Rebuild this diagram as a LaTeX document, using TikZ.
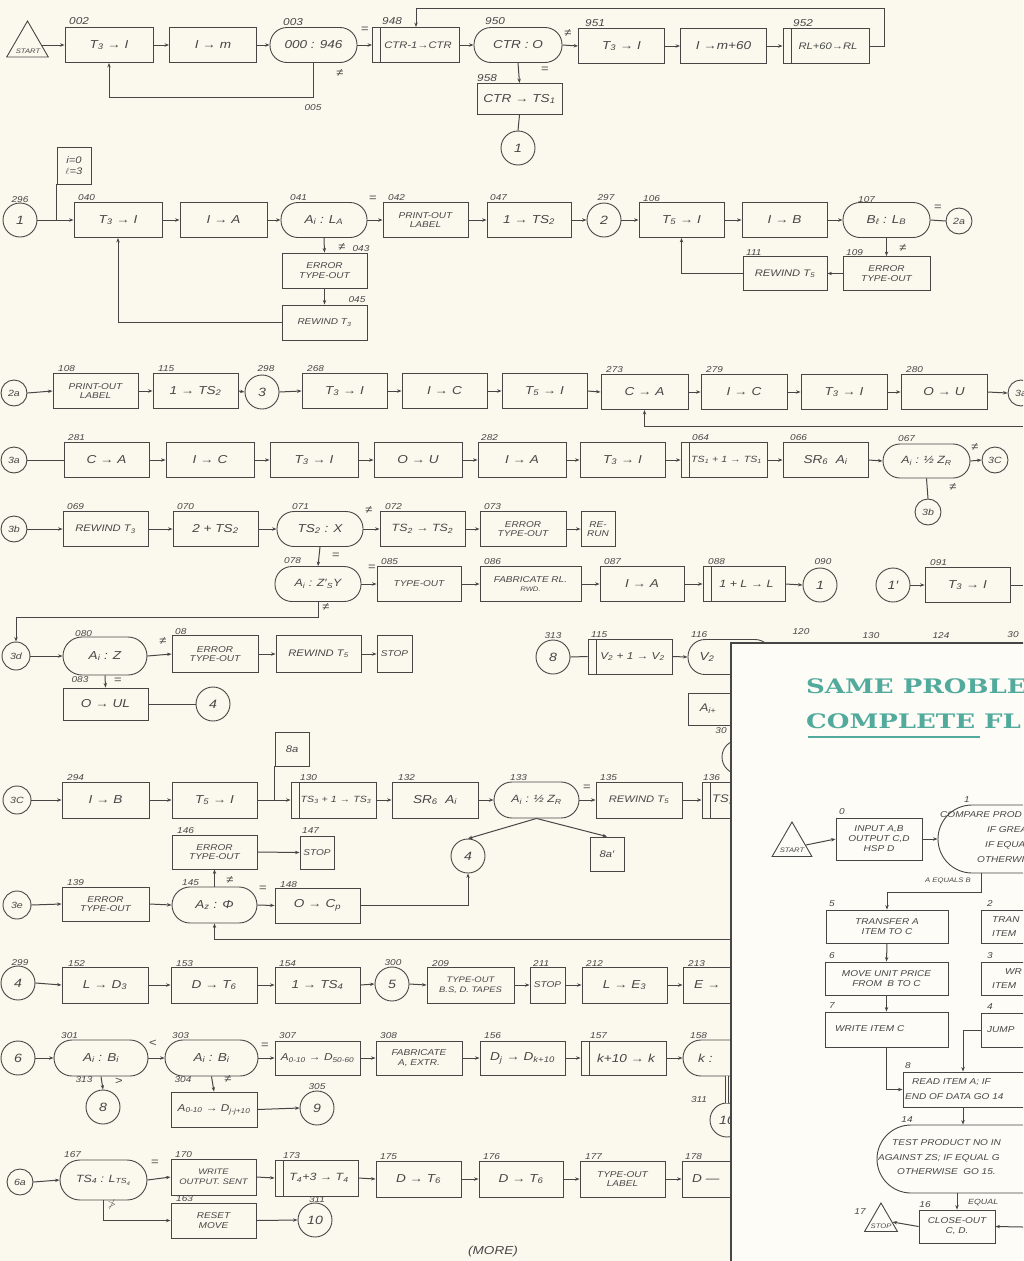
\documentclass[tikz,border=0pt]{standalone}
\usepackage{fontspec}
\setmainfont{Liberation Sans}[FakeStretch=1.18]
\newfontfamily\titlefont[FakeStretch=1.3]{DejaVu Serif}
\usetikzlibrary{arrows.meta,shapes.geometric}
\definecolor{ink}{HTML}{464646}
\definecolor{bgc}{HTML}{FBF9EE}
\definecolor{panelc}{HTML}{FDFCF7}
\definecolor{titlec}{HTML}{52AA9C}
\newcommand\sbx[1]{\textsubscript{#1}}
\begin{document}
\begin{tikzpicture}[x=1pt,y=-1pt,
  every node/.style={text=ink},
  bx/.style={draw=ink, line width=0.9pt, rectangle, minimum width=86, minimum height=35, inner sep=1pt, align=center, font=\itshape\fontsize{11.5}{13}\selectfont},
  term/.style={bx, rounded corners=17pt},
  subr/.style={bx, path picture={\draw[ink, line width=0.9pt] ([xshift=8pt]path picture bounding box.north west) -- ([xshift=8pt]path picture bounding box.south west);}},
  conn/.style={draw=ink, line width=0.9pt, circle, minimum size=34, inner sep=0, font=\itshape\fontsize{12}{13}\selectfont},
  sconn/.style={conn, minimum size=26, font=\itshape\fontsize{9}{10}\selectfont},
  sm/.style={font=\itshape\fontsize{8.5}{9.5}\selectfont},
  md/.style={font=\itshape\fontsize{9.5}{11}\selectfont},
  sub9/.style={font=\itshape\fontsize{9}{10}\selectfont},
  lbl/.style={font=\itshape\fontsize{8.5}{9}\selectfont, inner sep=0, anchor=south west},
  lblA/.style={lbl, font=\itshape\fontsize{10}{10}\selectfont},
  clbl/.style={font=\itshape\fontsize{8.5}{9}\selectfont, inner sep=0},
  sym/.style={font=\fontsize{11}{11}\selectfont, inner sep=0},
  tri/.style={draw=ink, line width=0.9pt, regular polygon, regular polygon sides=3, inner sep=0},
  tiny/.style={font=\itshape\fontsize{6.5}{6.5}\selectfont, inner sep=0},
  itxt/.style={font=\itshape\fontsize{8.5}{9.5}\selectfont, inner sep=0, anchor=west},
  ibx/.style={bx, font=\itshape\fontsize{8.5}{10}\selectfont},
  arr/.style={draw=ink, line width=1pt, -{Stealth[length=4.5pt,width=3.4pt]}},
  ln/.style={draw=ink, line width=1pt}
]
\useasboundingbox (0,0) rectangle (1023,1261);
\clip (0,0) rectangle (1023,1261);
\fill[bgc] (0,0) rectangle (1023,1261);

%% ---------------- row 1
\node[tri, minimum size=48] (start) at (27.5,45) {};
\node[tiny] (starttxt) at (28,51) {START};
\node[bx, minimum width=88] (b002) at (109,45) {T\sbx{3} → I};
\node[lblA] (l002) at (69,25) {002};
\node[bx, minimum width=87] (bIm) at (213,45) {I → m};
\node[term, minimum width=87] (t003) at (313.5,45) {000 : 946};
\node[lblA] (l003) at (283,26) {003};
\node[subr, minimum width=87, font=\itshape\fontsize{9.5}{11}\selectfont] (b948) at (416,45) {\hspace{4pt}CTR-1→CTR};
\node[lblA] (l948) at (382,25) {948};
\node[term, minimum width=88] (t950) at (518,45) {CTR : O};
\node[lblA] (l950) at (485,25) {950};
\node[bx] (b951) at (621.5,46) {T\sbx{3} → I};
\node[lblA] (l951) at (585,27) {951};
\node[bx] (bIm60) at (723.5,46) {I →m+60};
\node[subr, font=\itshape\fontsize{9.5}{11}\selectfont] (b952) at (826,46) {\hspace{4pt}RL+60→RL};
\node[lblA] (l952) at (793,27) {952};
\node[bx, minimum width=85, minimum height=31] (bCTR) at (519.5,99) {CTR → TS\sbx{1}};
\node[lblA] (l958) at (477,82) {958};
\node[conn] (c1a) at (518,148) {1};
\node[sym] (s1) at (365,30) {=};
\node[sym] (s2) at (340,73) {≠};
\node[clbl] (l005) at (313,108) {005};
\node[sym] (s3) at (568,33) {≠};
\node[sym] (s4) at (545,70) {=};

\draw[arr] (start.east) -- (b002.west);
\draw[arr] (b002.east) -- (bIm.west);
\draw[arr] (bIm.east) -- (t003.west);
\draw[arr] (t003.east) -- (b948.west);
\draw[arr] (b948.east) -- (t950.west);
\draw[arr] (t950.east) -- (b951.west);
\draw[arr] (b951.east) -- (bIm60.west);
\draw[arr] (bIm60.east) -- (b952.west);
\draw[arr] (t003.south) -- ++(0,34.5) -| (b002.south);
\draw[arr] (b952.east) -- ++(15,0) -- ++(0,-38) -| (b948.north);
\draw[arr] (t950.south) -- (bCTR.north);
\draw[ln] (bCTR.south) -- (c1a.north);

%% ---------------- row 2
\node[bx, minimum width=34, minimum height=37, md, inner sep=0] (bij) at (74,165.5) {i=0\\$\ell$=3};
\node[conn] (c1b) at (20,220) {1};
\node[clbl] (l296) at (20,200) {296};
\node[bx, minimum width=88] (b040) at (118,220) {T\sbx{3} → I};
\node[lbl] (l040) at (78,201) {040};
\node[bx, minimum width=87] (bIA) at (223.5,220) {I → A};
\node[term] (t041) at (324,220) {A\sbx{i} : L\sbx{A}};
\node[lbl] (l041) at (290,201) {041};
\node[bx, minimum width=85, sm] (b042) at (425.5,220) {PRINT-OUT\\LABEL};
\node[lbl] (l042) at (388,201) {042};
\node[bx, minimum width=84] (b047) at (529,220) {1 → TS\sbx{2}};
\node[lbl] (l047) at (490,201) {047};
\node[conn] (c2) at (604,220) {2};
\node[clbl] (l297) at (606,198) {297};
\node[bx, minimum width=85] (b106) at (681.5,220) {T\sbx{5} → I};
\node[lbl] (l106) at (643,202) {106};
\node[bx, minimum width=85] (bIB) at (784.5,220) {I → B};
\node[term, minimum width=87] (t107) at (886.5,220) {B\sbx{ℓ} : L\sbx{B}};
\node[lbl] (l107) at (858,203) {107};
\node[sconn] (c2a) at (959,221) {2a};
\node[bx, minimum width=87, minimum height=34, sm] (b109) at (886.5,273.5) {ERROR\\TYPE-OUT};
\node[lbl] (l109) at (846,256) {109};
\node[bx, minimum width=84, minimum height=34, md] (b111) at (785,273.5) {REWIND T\sbx{5}};
\node[lbl] (l111) at (746,256) {111};
\node[bx, minimum width=85, sm] (b043) at (324.5,270.5) {ERROR\\TYPE-OUT};
\node[bx, minimum width=85, sm] (b045) at (324.5,322.5) {REWIND T\sbx{3}};
\node[sym] (s5) at (373,199) {=};
\node[sym] (s6) at (938,208) {=};
\node[sym] (s7) at (903,248) {≠};
\node[sym] (s8) at (342,247) {≠};
\node[clbl] (l043) at (361,249) {043};
\node[clbl] (l045) at (357,300) {045};

\draw[arr] (c1b.east) -- (b040.west);
\draw[ln] (bij.south west) -- (bij.south west |- c1b.east);
\draw[arr] (b040.east) -- (bIA.west);
\draw[arr] (bIA.east) -- (t041.west);
\draw[arr] (t041.east) -- (b042.west);
\draw[arr] (b042.east) -- (b047.west);
\draw[arr] (b047.east) -- (c2.west);
\draw[arr] (c2.east) -- (b106.west);
\draw[arr] (b106.east) -- (bIB.west);
\draw[arr] (bIB.east) -- (t107.west);
\draw[ln] (t107.east) -- (c2a.west);
\draw[arr] (t107.south) -- (b109.north);
\draw[arr] (b109.west) -- (b111.east);
\draw[arr] (b111.west) -| (b106.south);
\draw[arr] (t041.south) -- (b043.north);
\draw[arr] (b043.south) -- (b045.north);
\draw[arr] (b045.west) -| (b040.south);

%% ---------------- row 3
\node[sconn] (c2b) at (14,393) {2a};
\node[bx, minimum width=85, sm] (b108) at (95.5,391) {PRINT-OUT\\LABEL};
\node[lbl] (l108) at (58,372) {108};
\node[bx, minimum width=85] (b115) at (195.5,391) {1 → TS\sbx{2}};
\node[lbl] (l115) at (158,372) {115};
\node[conn] (c3) at (262,392) {3};
\node[clbl] (l298) at (266,369) {298};
\node[bx, minimum width=85] (b268) at (344.5,391) {T\sbx{3} → I};
\node[lbl] (l268) at (307,372) {268};
\node[bx, minimum width=85] (bIC1) at (444.5,391) {I → C};
\node[bx, minimum width=85] (bT5a) at (544.5,391) {T\sbx{5} → I};
\node[bx, minimum width=87] (b273) at (644.5,392) {C → A};
\node[lbl] (l273) at (606,373) {273};
\node[bx] (b279) at (744,392) {I → C};
\node[lbl] (l279) at (706,373) {279};
\node[bx] (bT3b) at (844,392) {T\sbx{3} → I};
\node[bx] (b280) at (944,392) {O → U};
\node[lbl] (l280) at (906,373) {280};
\node[sconn] (c3a1) at (1021,393) {3a};
\coordinate (lpR) at (1023,426);

\draw[arr] (c2b.east) -- (b108.west);
\draw[arr] (b108.east) -- (b115.west);
\draw[arr] (b115.east) -- (c3.west);
\draw[arr] (c3.east) -- (b268.west);
\draw[arr] (b268.east) -- (bIC1.west);
\draw[arr] (bIC1.east) -- (bT5a.west);
\draw[arr] (bT5a.east) -- (b273.west);
\draw[arr] (b273.east) -- (b279.west);
\draw[arr] (b279.east) -- (bT3b.west);
\draw[arr] (bT3b.east) -- (b280.west);
\draw[arr] (b280.east) -- (c3a1.west);
\draw[arr] (lpR) -| (b273.south);

%% ---------------- row 4
\node[sconn] (c3a2) at (14,460) {3a};
\node[bx, minimum width=85] (b281) at (106.5,460) {C → A};
\node[lbl] (l281) at (68,441) {281};
\node[bx, minimum width=88] (bIC2) at (210,460) {I → C};
\node[bx, minimum width=88] (bT3c) at (314,460) {T\sbx{3} → I};
\node[bx, minimum width=88] (bOU) at (418,460) {O → U};
\node[bx, minimum width=88] (b282) at (522,460) {I → A};
\node[lbl] (l282) at (481,441) {282};
\node[bx, minimum width=85] (bT3d) at (622.5,460) {T\sbx{3} → I};
\node[subr, sub9] (b064) at (724,460) {\hspace{5pt}TS\sbx{1} + 1 → TS\sbx{1}};
\node[lbl] (l064) at (692,441) {064};
\node[bx, minimum width=85] (b066) at (825.5,460) {SR\sbx{6}\ \ A\sbx{i}};
\node[lbl] (l066) at (790,441) {066};
\node[term, minimum width=87, minimum height=34, font=\itshape\fontsize{10.5}{12}\selectfont] (t067) at (926.5,461) {A\sbx{i} : ½ Z\sbx{R}};
\node[lbl] (l067) at (898,442) {067};
\node[sconn] (c3C) at (995,460) {3C};
\node[sconn] (c3b1) at (928,512) {3b};
\node[sym] (s9) at (975,447) {≠};
\node[sym] (s10) at (953,487) {≠};

\draw[ln] (c3a2.east) -- (b281.west);
\draw[arr] (b281.east) -- (bIC2.west);
\draw[arr] (bIC2.east) -- (bT3c.west);
\draw[arr] (bT3c.east) -- (bOU.west);
\draw[arr] (bOU.east) -- (b282.west);
\draw[arr] (b282.east) -- (bT3d.west);
\draw[arr] (bT3d.east) -- (b064.west);
\draw[arr] (b064.east) -- (b066.west);
\draw[arr] (b066.east) -- (t067.west);
\draw[arr] (t067.east) -- (c3C.west);
\draw[ln] (t067.south) -- (c3b1.north);

%% ---------------- row 5
\node[sconn] (c3b2) at (14,529) {3b};
\node[bx, minimum width=85, md] (b069) at (105.5,529) {REWIND T\sbx{3}};
\node[lbl] (l069) at (67,510) {069};
\node[bx, minimum width=85] (b070) at (215.5,529) {2 + TS\sbx{2}};
\node[lbl] (l070) at (177,510) {070};
\node[term] (t071) at (320,529) {TS\sbx{2} : X};
\node[lbl] (l071) at (292,510) {071};
\node[bx, minimum width=85, font=\itshape\fontsize{10.5}{12}\selectfont] (b072) at (422.5,529) {TS\sbx{2} → TS\sbx{2}};
\node[lbl] (l072) at (385,510) {072};
\node[bx, sm] (b073) at (523,529) {ERROR\\TYPE-OUT};
\node[lbl] (l073) at (484,510) {073};
\node[bx, minimum width=34, sm] (bRR) at (598,529) {RE-\\RUN};
\node[sym] (s11) at (369,510) {≠};

\draw[arr] (c3b2.east) -- (b069.west);
\draw[arr] (b069.east) -- (b070.west);
\draw[arr] (b070.east) -- (t071.west);
\draw[arr] (t071.east) -- (b072.west);
\draw[arr] (b072.east) -- (b073.west);
\draw[arr] (b073.east) -- (bRR.west);

%% ---------------- row 6
\node[term, font=\itshape\fontsize{10.5}{12}\selectfont] (t078) at (318,584) {A\sbx{i} : Z′\sbx{S}Y};
\node[lbl] (l078) at (284,564) {078};
\node[bx, minimum width=84, sm] (b085) at (419,584) {TYPE-OUT};
\node[lbl] (l085) at (381,565) {085};
\node[bx, minimum width=101, sm] (b086) at (530.5,584) {FABRICATE RL.\\{\fontsize{6.5}{6.5}\selectfont RWD.}};
\node[lbl] (l086) at (484,565) {086};
\node[bx, minimum width=84] (b087) at (642,584) {I → A};
\node[lbl] (l087) at (604,565) {087};
\node[subr, minimum width=82, font=\itshape\fontsize{10.5}{12}\selectfont] (b088) at (744,584) {\hspace{5pt}1 + L → L};
\node[lbl] (l088) at (708,565) {088};
\node[conn] (c090) at (820,585) {1};
\node[clbl] (l090) at (823,562) {090};
\node[conn] (c1p) at (893,585) {1′};
\node[bx, minimum width=85] (b091) at (967.5,585) {T\sbx{3} → I};
\node[lbl] (l091) at (930,566) {091};
\coordinate (rowEx) at (1023,585);
\node[sym] (s12) at (336,556) {=};
\node[sym] (s13) at (372,568) {=};
\node[sym] (s14) at (326,607) {≠};

\draw[arr] (t071.south) -- (t078.north);
\draw[arr] (t078.east) -- (b085.west);
\draw[arr] (b085.east) -- (b086.west);
\draw[arr] (b086.east) -- (b087.west);
\draw[arr] (b087.east) -- (b088.west);
\draw[arr] (b088.east) -- (c090.west);
\draw[arr] (c1p.east) -- (b091.west);
\draw[ln] (b091.east) -- (rowEx);

\node[sconn, minimum size=28] (c3d) at (16,656) {3d};
\node[term, minimum width=84, minimum height=38, rounded corners=19pt] (t080) at (105,656) {A\sbx{i} : Z};
\node[lbl] (l080) at (75,637) {080};
\node[bx, minimum width=86, minimum height=37, sm] (b08) at (215,654) {ERROR\\TYPE-OUT};
\node[lbl] (l08) at (175,635) {08};
\node[bx, minimum width=85, minimum height=37, md] (bRW5) at (318.5,654) {REWIND T\sbx{5}};
\node[bx, minimum width=35, minimum height=37, sm] (bSTOP1) at (394.5,654) {STOP};
\node[bx, minimum width=85, minimum height=32] (bUL) at (105.5,704) {O → UL};
\node[clbl] (l083) at (80,680) {083};
\node[conn] (c4a) at (213,704) {4};
\node[bx, minimum width=34, minimum height=34, md] (b8a) at (292,749) {8a};
\node[sym] (s15) at (163,641) {≠};
\node[sym] (s16) at (118,681) {=};

\draw[arr] (t078.south) -- ++(0,16) -| (c3d.north);
\draw[arr] (c3d.east) -- (t080.west);
\draw[arr] (t080.east) -- (b08.west);
\draw[arr] (b08.east) -- (bRW5.west);
\draw[arr] (bRW5.east) -- (bSTOP1.west);
\draw[arr] (t080.south) -- (bUL.north);
\draw[ln] (bUL.east) -- (c4a.west);

\node[conn] (c8) at (553,657) {8};
\node[clbl] (l313a) at (553,636) {313};
\node[subr, minimum width=84, font=\itshape\fontsize{10}{11}\selectfont] (b115b) at (630,656.5) {\hspace{5pt}V\sbx{2} + 1 → V\sbx{2}};
\node[lbl] (l115b) at (591,638) {115};
\node[term, minimum width=84] (t116) at (730,657) {};
\node[inner sep=0, font=\itshape\fontsize{11.5}{13}\selectfont] (t116txt) at (707,657) {V\sbx{2}};
\node[lbl] (l116) at (691,638) {116};
\node[bx, minimum width=84, minimum height=32] (bAi) at (730,709) {};
\node[inner sep=0, font=\itshape\fontsize{11}{13}\selectfont] (bAitxt) at (708,709) {A\sbx{i+}};
\node[conn] (c30) at (739,757) {};
\node[clbl] (l30a) at (721,731) {30};
\node[clbl] (l120) at (801,632) {120};
\node[clbl] (l130b) at (871,636) {130};
\node[clbl] (l124) at (941,636) {124};
\node[clbl] (l30b) at (1013,635) {30};

\draw[ln] (c8.east) -- (b115b.west);
\draw[arr] (b115b.east) -- (t116.west);

%% ---------------- row 7
\node[sconn, minimum size=28] (c3C2) at (17,800) {3C};
\node[bx, minimum width=87, minimum height=36] (b294) at (105.5,800) {I → B};
\node[lbl] (l294) at (67,781) {294};
\node[bx, minimum width=85, minimum height=36] (bT5b) at (214.5,800) {T\sbx{5} → I};
\node[subr, minimum width=85, minimum height=36, sub9] (b130) at (333.5,800) {\hspace{5pt}TS\sbx{3} + 1 → TS\sbx{3}};
\node[lbl] (l130) at (300,781) {130};
\node[bx, minimum height=36] (b132) at (435,800) {SR\sbx{6}\ \ A\sbx{i}};
\node[lbl] (l132) at (398,781) {132};
\node[term, minimum width=85, minimum height=36, rounded corners=18pt, font=\itshape\fontsize{10.5}{12}\selectfont] (t133) at (536.5,800) {A\sbx{i} : ½ Z\sbx{R}};
\node[lbl] (l133) at (510,781) {133};
\node[bx, minimum height=36, md] (b135) at (639,800) {REWIND T\sbx{5}};
\node[lbl] (l135) at (600,781) {135};
\node[subr, minimum height=36] (b136) at (745,800) {};
\node[inner sep=0, font=\itshape\fontsize{11}{13}\selectfont, anchor=west] (b136txt) at (712,800) {TS\sbx{3}};
\node[lbl] (l136) at (703,781) {136};
\node[conn] (c4b) at (468,856) {4};
\node[bx, minimum width=34, minimum height=34, md] (b8ap) at (607,854) {8a′};
\node[sym] (s17) at (587,788) {=};

\draw[arr] (c3C2.east) -- (b294.west);
\draw[arr] (b294.east) -- (bT5b.west);
\draw[arr] (bT5b.east) -- (b130.west);
\draw[ln] (b8a.south west) -- (b8a.south west |- bT5b.east);
\draw[arr] (b130.east) -- (b132.west);
\draw[arr] (b132.east) -- (t133.west);
\draw[arr] (t133.east) -- (b135.west);
\draw[arr] (b135.east) -- (b136.west);
\draw[arr] (t133.south) -- (c4b.north);
\draw[arr] (t133.south) -- (b8ap.north);

\node[bx, minimum width=85, minimum height=34, sm] (b146) at (214.5,852) {ERROR\\TYPE-OUT};
\node[lbl] (l146) at (177,834) {146};
\node[bx, minimum width=34, minimum height=33, sm] (b147) at (317,852.5) {STOP};
\node[lbl] (l147) at (302,834) {147};
\node[sconn, minimum size=28] (c3e) at (17,905) {3e};
\node[bx, minimum width=87, minimum height=34, sm] (b139) at (105.5,904) {ERROR\\TYPE-OUT};
\node[lbl] (l139) at (67,886) {139};
\node[term, minimum width=85, minimum height=36, rounded corners=18pt] (t145) at (214.5,905) {A\sbx{z} : Φ};
\node[lbl] (l145) at (182,886) {145};
\node[bx, minimum width=85] (b148) at (317.5,905.5) {O → C\sbx{p}};
\node[lbl] (l148) at (280,888) {148};
\coordinate (lp145) at (735,939);
\node[sym] (s18) at (230,880) {≠};
\node[sym] (s19) at (263,889) {=};

\draw[arr] (b146.east) -- (b147.west);
\draw[arr] (c3e.east) -- (b139.west);
\draw[arr] (b139.east) -- (t145.west);
\draw[arr] (t145.east) -- (b148.west);
\draw[arr] (t145.north) -- (b146.south);
\draw[arr] (b148.east) -| (c4b.south);
\draw[arr] (lp145) -| (t145.south);

%% ---------------- row 8
\node[conn] (c4c) at (18,983) {4};
\node[clbl] (l299) at (20,963) {299};
\node[bx, minimum height=36] (b152) at (105,985) {L → D\sbx{3}};
\node[lbl] (l152) at (68,967) {152};
\node[bx, minimum height=36] (b153) at (214,985) {D → T\sbx{6}};
\node[lbl] (l153) at (176,967) {153};
\node[bx, minimum width=85, minimum height=36] (b154) at (317.5,985) {1 → TS\sbx{4}};
\node[lbl] (l154) at (279,967) {154};
\node[conn] (c5) at (392,984) {5};
\node[clbl] (l300) at (393,963) {300};
\node[bx, minimum width=87, minimum height=36, font=\itshape\fontsize{8}{9.5}\selectfont] (b209) at (470.5,985) {TYPE-OUT\\B.S, D. TAPES};
\node[lbl] (l209) at (432,967) {209};
\node[bx, minimum width=35, minimum height=36, sm] (b211) at (547.5,985) {STOP};
\node[lbl] (l211) at (533,967) {211};
\node[bx, minimum width=85, minimum height=36] (b212) at (624.5,985) {L → E\sbx{3}};
\node[lbl] (l212) at (586,967) {212};
\node[bx, minimum width=84, minimum height=36] (b213) at (725,985) {};
\node[inner sep=0, font=\itshape\fontsize{11.5}{13}\selectfont, anchor=west] (b213txt) at (694,985) {E →};
\node[lbl] (l213) at (688,967) {213};

\draw[arr] (c4c.east) -- (b152.west);
\draw[arr] (b152.east) -- (b153.west);
\draw[arr] (b153.east) -- (b154.west);
\draw[arr] (b154.east) -- (c5.west);
\draw[arr] (c5.east) -- (b209.west);
\draw[arr] (b209.east) -- (b211.west);
\draw[arr] (b211.east) -- (b212.west);
\draw[arr] (b212.east) -- (b213.west);

%% ---------------- row 9
\node[conn] (c6) at (18,1058) {6};
\node[term, minimum width=94, minimum height=36, rounded corners=18pt] (t301) at (101,1058) {A\sbx{i} : B\sbx{i}};
\node[lbl] (l301) at (61,1039) {301};
\node[term, minimum width=93, minimum height=36, rounded corners=18pt] (t303) at (211.5,1058) {A\sbx{i} : B\sbx{i}};
\node[lbl] (l303) at (172,1039) {303};
\node[bx, minimum width=85, minimum height=34, font=\itshape\fontsize{10}{12}\selectfont] (b307) at (317.5,1058) {A\sbx{0-10} → D\sbx{50-60}};
\node[lbl] (l307) at (279,1039) {307};
\node[bx, minimum width=86, minimum height=34, sm] (b308) at (419,1058) {FABRICATE\\A, EXTR.};
\node[lbl] (l308) at (380,1039) {308};
\node[bx, minimum width=85, minimum height=34] (b156) at (522.5,1058) {D\sbx{j} → D\sbx{k+10}};
\node[lbl] (l156) at (484,1039) {156};
\node[subr, minimum width=85, minimum height=34] (b157) at (623.5,1058) {\hspace{5pt}k+10 → k};
\node[lbl] (l157) at (590,1039) {157};
\node[term, minimum width=88, minimum height=36, rounded corners=18pt] (t158) at (727,1058) {};
\node[inner sep=0, font=\itshape\fontsize{11.5}{13}\selectfont, anchor=west] (t158txt) at (698,1058) {k :};
\node[lbl] (l158) at (690,1039) {158};
\node[conn] (c10b) at (727,1120) {10};
\node[clbl] (l311b) at (699,1100) {311};
\node[conn] (c8b) at (103,1107) {8};
\node[clbl] (l313b) at (84,1080) {313};
\node[bx, minimum width=86, minimum height=35, font=\itshape\fontsize{10}{12}\selectfont] (b304) at (214,1109.5) {A\sbx{0-10} → D\sbx{j-j+10}};
\node[clbl] (l304) at (183,1080) {304};
\node[conn] (c9) at (317,1108) {9};
\node[clbl] (l305) at (317,1087) {305};
\node[sym] (s20) at (153,1043) {<};
\node[sym] (s21) at (265,1046) {=};
\node[sym] (s22) at (119,1081) {>};
\node[sym] (s23) at (228,1079) {≠};

\draw[arr] (c6.east) -- (t301.west);
\draw[arr] (t301.east) -- (t303.west);
\draw[arr] (t303.east) -- (b307.west);
\draw[arr] (b307.east) -- (b308.west);
\draw[arr] (b308.east) -- (b156.west);
\draw[arr] (b156.east) -- (b157.west);
\draw[arr] (b157.east) -- (t158.west);
\draw[draw=ink, line width=0.9pt, double=bgc, double distance=2pt] (t158.south) -- (c10b.north);
\draw[arr] (t301.south) -- (c8b.north);
\draw[arr] (t303.south) -- (b304.north);
\draw[arr] (b304.east) -- (c9.west);

%% ---------------- row 10
\node[sconn] (c6a) at (20,1182) {6a};
\node[term, minimum width=87, minimum height=40, rounded corners=20pt, font=\itshape\fontsize{10.5}{12}\selectfont] (t167) at (103.5,1180) {TS\sbx{4} : L\sbx{TS\sbx{4}}};
\node[lbl] (l167) at (64,1158) {167};
\node[bx, minimum width=85, minimum height=36, font=\itshape\fontsize{8}{9.5}\selectfont] (b170) at (213.5,1177) {WRITE\\OUTPUT. SENT};
\node[lbl] (l170) at (175,1158) {170};
\node[subr, minimum width=83, minimum height=36, font=\itshape\fontsize{10.5}{12}\selectfont] (b173) at (316.5,1178) {\hspace{5pt}T\sbx{4}+3 → T\sbx{4}};
\node[lbl] (l173) at (283,1159) {173};
\node[bx, minimum width=85, minimum height=36] (b175) at (418.5,1179) {D → T\sbx{6}};
\node[lbl] (l175) at (380,1160) {175};
\node[bx, minimum width=84, minimum height=36] (b176) at (521,1179) {D → T\sbx{6}};
\node[lbl] (l176) at (483,1160) {176};
\node[bx, minimum width=85, minimum height=36, sm] (b177) at (622.5,1179) {TYPE-OUT\\LABEL};
\node[lbl] (l177) at (585,1160) {177};
\node[bx, minimum width=84, minimum height=36] (b178) at (724,1179) {};
\node[inner sep=0, font=\itshape\fontsize{11.5}{13}\selectfont, anchor=west] (b178txt) at (692,1179) {D —};
\node[lbl] (l178) at (685,1160) {178};
\node[bx, minimum width=85, minimum height=35, sm] (b163) at (213.5,1220.5) {RESET\\MOVE};
\node[lbl] (l163) at (176,1202) {163};
\node[conn] (c10) at (315,1220) {10};
\node[clbl] (l311) at (317,1200) {311};
\node[sym] (s24) at (155,1163) {=};
\node[sym] (s25) at (112,1205) {$\not>$};
\node[font=\itshape\fontsize{11.5}{12}\selectfont, inner sep=0] (more) at (493,1252) {(MORE)};

\draw[arr] (c6a.east) -- (t167.west);
\draw[arr] (t167.east) -- (b170.west);
\draw[arr] (b170.east) -- (b173.west);
\draw[arr] (b173.east) -- (b175.west);
\draw[arr] (b175.east) -- (b176.west);
\draw[arr] (b176.east) -- (b177.west);
\draw[arr] (b177.east) -- (b178.west);
\draw[arr] (t167.south) |- (b163.west);
\draw[arr] (b163.east) -- (c10.west);

%% ---------------- inset panel
\fill[panelc] (731,643) rectangle (1030,1270);
\draw[ink, line width=1.4pt] (731,1270) -- (731,643) -- (1030,643);
\node[font=\titlefont\bfseries\fontsize{20}{22}\selectfont, text=titlec, inner sep=0, anchor=base west] (title1) at (806,693) {SAME PROBLE};
\node[font=\titlefont\bfseries\fontsize{20}{22}\selectfont, text=titlec, inner sep=0, anchor=base west] (title2) at (806,728) {COMPLETE FL};
\draw[titlec, line width=1.8pt] (title2.base west) ++(2,9) -- ++(172,0);

\node[tri, minimum size=46] (itri) at (792,845) {};
\node[tiny] (itritxt) at (792,850) {START};
\node[ibx, minimum width=86, minimum height=42] (ib0) at (879,839) {INPUT A,B\\OUTPUT C,D\\HSP D};
\node[clbl] (li0) at (842,812) {0};
\node[term, minimum width=124, minimum height=68, rounded corners=34pt] (it1) at (1000,839) {};
\node[itxt] (it1a) at (940,815) {COMPARE PROD};
\node[itxt] (it1b) at (987,830) {IF GREA};
\node[itxt] (it1c) at (985,845) {IF EQUA};
\node[itxt] (it1d) at (977,860) {OTHERWI};
\node[clbl] (li1) at (967,800) {1};
\node[font=\itshape\fontsize{6.5}{7}\selectfont, inner sep=0] (iaeq) at (948,881) {A EQUALS B};
\node[ibx, minimum width=122, minimum height=33] (ib5) at (887,926.5) {TRANSFER A\\ITEM TO C};
\node[clbl] (li5) at (832,904) {5};
\node[bx, minimum width=118, minimum height=33] (ib2) at (1040,926.5) {};
\node[itxt] (ib2a) at (992,920) {TRAN};
\node[itxt] (ib2b) at (992,934) {ITEM};
\node[clbl] (li2) at (990,904) {2};
\node[ibx, minimum width=123, minimum height=33] (ib6) at (886.5,978.5) {MOVE UNIT PRICE\\FROM \ B TO C};
\node[clbl] (li6) at (832,956) {6};
\node[bx, minimum width=123, minimum height=35] (ib7) at (886.5,1029.5) {};
\node[itxt] (ib7a) at (835,1029) {WRITE ITEM C};
\node[clbl] (li7) at (832,1006) {7};
\node[bx, minimum width=118, minimum height=33] (ib3) at (1040,979) {};
\node[itxt] (ib3a) at (1005,972) {WR};
\node[itxt] (ib3b) at (992,986) {ITEM};
\node[clbl] (li3) at (990,956) {3};
\node[bx, minimum width=118, minimum height=34] (ib4) at (1040,1030) {};
\node[itxt] (ib4a) at (987,1030) {JUMP};
\node[clbl] (li4) at (990,1007) {4};
\node[bx, minimum width=194, minimum height=35] (ib8) at (1000,1089.5) {};
\node[itxt] (ib8a) at (912,1082) {READ ITEM A; IF};
\node[itxt] (ib8b) at (905,1097) {END OF DATA GO 14};
\node[clbl] (li8) at (908,1066) {8};
\node[term, minimum width=246, minimum height=68, rounded corners=34pt] (it14) at (1000,1159) {};
\node[itxt] (it14a) at (892,1143) {TEST PRODUCT NO IN};
\node[itxt] (it14b) at (878,1158) {AGAINST ZS; IF EQUAL G};
\node[itxt] (it14c) at (897,1172) {OTHERWISE \ GO 15.};
\node[clbl] (li14) at (907,1120) {14};
\node[ibx, minimum width=76, minimum height=33] (ib16) at (957,1226.5) {CLOSE-OUT\\C, D.};
\node[clbl] (li16) at (925,1205) {16};
\node[font=\itshape\fontsize{7.5}{8}\selectfont, inner sep=0, anchor=west] (iequal) at (968,1203) {EQUAL};
\coordinate (iin) at (1023,1227);
\node[tri, minimum size=38] (istop) at (881,1222) {};
\node[tiny] (istoptxt) at (881,1226) {STOP};
\node[clbl] (li17) at (860,1212) {17};

\draw[arr] (itri.east) -- (ib0.west);
\draw[arr] (ib0.east) -- (it1.west);
\draw[arr] ([xshift=-19pt]it1.south) -- ++(0,19) -| (ib5.north);
\draw[arr] (ib5.south) -- (ib6.north);
\draw[arr] (ib6.south) -- (ib7.north);
\draw[arr] (ib7.south) |- (ib8.west);
\draw[arr] (ib4.west) -| ([xshift=-37pt]ib8.north);
\draw[arr] ([xshift=-37pt]ib8.south) -- ([xshift=-37pt]it14.north);
\draw[arr] (ib16.north |- it14.south) -- (ib16.north);
\draw[arr] (iin) -- (ib16.east);
\draw[arr] (ib16.west) -- (istop.east);
\end{tikzpicture}
\end{document}
